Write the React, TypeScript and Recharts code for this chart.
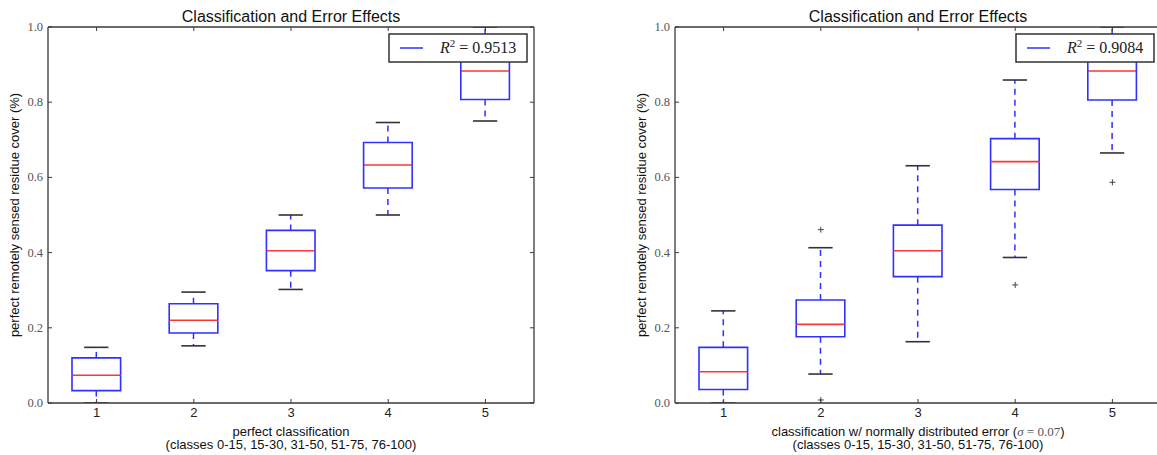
import { Bar, ComposedChart, Line, XAxis, YAxis } from "recharts";

const classes = ["1", "2", "3", "4", "5"];
const yTicks = [0, 0.2, 0.4, 0.6, 0.8, 1.0];

// perfect classification
const perfectLow = [0.0, 0.152, 0.302, 0.5, 0.75];
const perfectQ1 = [0.033, 0.186, 0.352, 0.572, 0.807];
const perfectMedian = [0.074, 0.22, 0.405, 0.633, 0.883];
const perfectQ3 = [0.12, 0.264, 0.459, 0.693, 0.95];
const perfectHigh = [0.148, 0.295, 0.5, 0.746, 1.0];
const perfectFliersA: (number | null)[] = [null, null, null, null, null];
const perfectFliersB: (number | null)[] = [null, null, null, null, null];

// classification with normally distributed error
const errorLow = [0.0, 0.077, 0.163, 0.387, 0.665];
const errorQ1 = [0.036, 0.176, 0.336, 0.568, 0.806];
const errorMedian = [0.083, 0.209, 0.405, 0.642, 0.883];
const errorQ3 = [0.148, 0.274, 0.473, 0.703, 0.95];
const errorHigh = [0.245, 0.413, 0.631, 0.859, 1.0];
const errorFliersA: (number | null)[] = [null, 0.461, null, null, null];
const errorFliersB: (number | null)[] = [null, 0.008, null, 0.314, 0.587];

const BLUE = "#3030ff";
const RED = "#ff3535";
const CAP = "#333";
const FRAME = "#3a3a3a";
const SANS = "'Liberation Sans', Arial, sans-serif";
const SERIF = "'Liberation Serif', 'Times New Roman', serif";

const PANEL_W = 580;
const PANEL_H = 455;
// each axis takes 1px, so the plot area is 48..534 x 27..403
const MARGIN = { top: 26, right: 45, bottom: 51, left: 47 };
const PLOT = { left: 48, right: 534, top: 27, bottom: 403 };

function buildRows(
  low: number[],
  q1: number[],
  median: number[],
  q3: number[],
  high: number[],
  fliersA: (number | null)[],
  fliersB: (number | null)[],
) {
  return classes.map((cls, i) => ({
    cls,
    base: low[i],
    lowerWhisker: q1[i] - low[i],
    lowerBox: median[i] - q1[i],
    upperBox: q3[i] - median[i],
    upperWhisker: high[i] - q3[i],
    flierA: fliersA[i],
    flierB: fliersB[i],
  }));
}

const perfectRows = buildRows(
  perfectLow, perfectQ1, perfectMedian, perfectQ3, perfectHigh, perfectFliersA, perfectFliersB,
);
const errorRows = buildRows(
  errorLow, errorQ1, errorMedian, errorQ3, errorHigh, errorFliersA, errorFliersB,
);

function Empty() {
  return <g />;
}

function LowerWhisker(props: any) {
  const { x, y, width, height } = props;
  const cx = x + width / 2;
  const bottom = y + height;
  return (
    <g>
      <line x1={cx} x2={cx} y1={y} y2={bottom} stroke={BLUE} strokeWidth={1.5} strokeDasharray="6 5" />
      <line x1={x + width / 4} x2={x + (3 * width) / 4} y1={bottom} y2={bottom} stroke={CAP} strokeWidth={1.6} />
    </g>
  );
}

function UpperWhisker(props: any) {
  const { x, y, width, height } = props;
  const cx = x + width / 2;
  const bottom = y + height;
  return (
    <g>
      <line x1={cx} x2={cx} y1={bottom} y2={y} stroke={BLUE} strokeWidth={1.5} strokeDasharray="6 5" />
      <line x1={x + width / 4} x2={x + (3 * width) / 4} y1={y} y2={y} stroke={CAP} strokeWidth={1.6} />
    </g>
  );
}

function LowerBox(props: any) {
  const { x, y, width, height } = props;
  const bottom = y + height;
  return (
    <g>
      <path
        d={`M${x},${y} L${x},${bottom} L${x + width},${bottom} L${x + width},${y}`}
        fill="none"
        stroke={BLUE}
        strokeWidth={1.6}
      />
      <line x1={x} x2={x + width} y1={y} y2={y} stroke={RED} strokeWidth={1.6} />
    </g>
  );
}

function UpperBox(props: any) {
  const { x, y, width, height } = props;
  const bottom = y + height;
  return (
    <path
      d={`M${x},${bottom} L${x},${y} L${x + width},${y} L${x + width},${bottom}`}
      fill="none"
      stroke={BLUE}
      strokeWidth={1.6}
    />
  );
}

function FlierDot(props: any) {
  const { cx, cy, index } = props;
  if (cy == null || !Number.isFinite(cy)) return <g key={`f-${index}`} />;
  return (
    <g key={`f-${index}`}>
      <line x1={cx - 3} x2={cx + 3} y1={cy} y2={cy} stroke="#444" strokeWidth={1} />
      <line x1={cx} x2={cx} y1={cy - 3} y2={cy + 3} stroke="#444" strokeWidth={1} />
    </g>
  );
}

// ticks point inwards on all four sides, like the classic matplotlib frame
function BottomTick(props: any) {
  const { x, payload } = props;
  return (
    <g>
      <line x1={x} x2={x} y1={PLOT.bottom} y2={PLOT.bottom - 4} stroke={FRAME} strokeWidth={1} />
      <text x={x} y={PLOT.bottom + 14} textAnchor="middle" fontFamily={SANS} fontSize={13} fill="#222">
        {payload.value}
      </text>
    </g>
  );
}

function TopTick(props: any) {
  const { x } = props;
  return <line x1={x} x2={x} y1={PLOT.top} y2={PLOT.top + 4} stroke={FRAME} strokeWidth={1} />;
}

function LeftTick(props: any) {
  const { y, payload } = props;
  return (
    <g>
      <line x1={PLOT.left} x2={PLOT.left + 4} y1={y} y2={y} stroke={FRAME} strokeWidth={1} />
      <text x={PLOT.left - 5} y={y + 4} textAnchor="end" fontFamily={SERIF} fontSize={12.5} fill="#555">
        {Number(payload.value).toFixed(1)}
      </text>
    </g>
  );
}

function RightTick(props: any) {
  const { y } = props;
  return <line x1={PLOT.right} x2={PLOT.right - 4} y1={y} y2={y} stroke={FRAME} strokeWidth={1} />;
}

function Panel({
  rows,
  left,
  r2,
  xLabel,
}: {
  rows: ReturnType<typeof buildRows>;
  left: number;
  r2: string;
  xLabel: React.ReactNode;
}) {
  const plotCenter = (PLOT.left + PLOT.right) / 2;
  const plotMiddle = (PLOT.top + PLOT.bottom) / 2;
  return (
    <div style={{ position: "absolute", left, top: 0, width: PANEL_W, height: PANEL_H }}>
      <ComposedChart width={PANEL_W} height={PANEL_H} data={rows} margin={MARGIN}>
        <XAxis
          dataKey="cls"
          type="category"
          height={1}
          tickSize={0}
          tickMargin={0}
          tickLine={false}
          interval={0}
          axisLine={{ stroke: FRAME, strokeWidth: 1.3 }}
          tick={BottomTick}
        />
        <XAxis
          xAxisId="top"
          orientation="top"
          dataKey="cls"
          type="category"
          height={1}
          tickSize={0}
          tickMargin={0}
          tickLine={false}
          interval={0}
          axisLine={{ stroke: FRAME, strokeWidth: 1.3 }}
          tick={TopTick}
        />
        <YAxis
          type="number"
          domain={[0, 1]}
          allowDataOverflow
          ticks={yTicks}
          interval={0}
          width={1}
          tickSize={0}
          tickMargin={0}
          tickLine={false}
          axisLine={{ stroke: FRAME, strokeWidth: 1.3 }}
          tick={LeftTick}
        />
        <YAxis
          yAxisId="right"
          orientation="right"
          type="number"
          domain={[0, 1]}
          allowDataOverflow
          ticks={yTicks}
          interval={0}
          width={1}
          tickSize={0}
          tickMargin={0}
          tickLine={false}
          axisLine={{ stroke: FRAME, strokeWidth: 1.3 }}
          tick={RightTick}
        />
        <Bar dataKey="base" stackId="box" barSize={48.6} shape={Empty} isAnimationActive={false} />
        <Bar dataKey="lowerWhisker" stackId="box" barSize={48.6} shape={LowerWhisker} isAnimationActive={false} />
        <Bar dataKey="lowerBox" stackId="box" barSize={48.6} shape={LowerBox} isAnimationActive={false} />
        <Bar dataKey="upperBox" stackId="box" barSize={48.6} shape={UpperBox} isAnimationActive={false} />
        <Bar dataKey="upperWhisker" stackId="box" barSize={48.6} shape={UpperWhisker} isAnimationActive={false} />
        <Line dataKey="flierA" stroke="none" dot={FlierDot} activeDot={false} isAnimationActive={false} />
        <Line dataKey="flierB" stroke="none" dot={FlierDot} activeDot={false} isAnimationActive={false} />
      </ComposedChart>
      <svg
        width={PANEL_W}
        height={PANEL_H}
        style={{ position: "absolute", left: 0, top: 0, pointerEvents: "none" }}
      >
        <text x={plotCenter} y={22} textAnchor="middle" fontFamily={SANS} fontSize={16} fill="#111">
          Classification and Error Effects
        </text>
        <text
          x={18.5}
          y={plotMiddle}
          transform={`rotate(-90, 18.5, ${plotMiddle})`}
          textAnchor="middle"
          fontFamily={SANS}
          fontSize={13}
          fill="#111"
        >
          perfect remotely sensed residue cover (%)
        </text>
        <text x={plotCenter} y={436} textAnchor="middle" fontFamily={SANS} fontSize={13} fill="#111">
          {xLabel}
        </text>
        <text x={plotCenter} y={449} textAnchor="middle" fontFamily={SANS} fontSize={13} fill="#111">
          (classes 0-15, 15-30, 31-50, 51-75, 76-100)
        </text>
        <rect x={389} y={34} width={138} height={28} fill="#fff" stroke="#333" strokeWidth={1.5} />
        <line x1={400} x2={423} y1={48} y2={48} stroke={BLUE} strokeWidth={1.5} />
        <text x={440} y={53} fontFamily={SERIF} fontSize={16} fill="#222">
          <tspan fontStyle="italic">R</tspan>
          <tspan fontSize={11} dy={-6}>2</tspan>
          <tspan dy={6}>{` = ${r2}`}</tspan>
        </text>
      </svg>
    </div>
  );
}

export default function App() {
  return (
    <div
      style={{
        position: "absolute",
        left: 0,
        top: 0,
        width: 1157,
        height: 455,
        overflow: "hidden",
        background: "#fff",
      }}
    >
      <Panel rows={perfectRows} left={0} r2="0.9513" xLabel="perfect classification" />
      <Panel
        rows={errorRows}
        left={627}
        r2="0.9084"
        xLabel={
          <>
            <tspan>classification w/ normally distributed error (</tspan>
            <tspan fontFamily={SERIF} fontStyle="italic" fill="#555">σ</tspan>
            <tspan fontFamily={SERIF} fill="#555">{" = 0.07"}</tspan>
            <tspan>)</tspan>
          </>
        }
      />
    </div>
  );
}
